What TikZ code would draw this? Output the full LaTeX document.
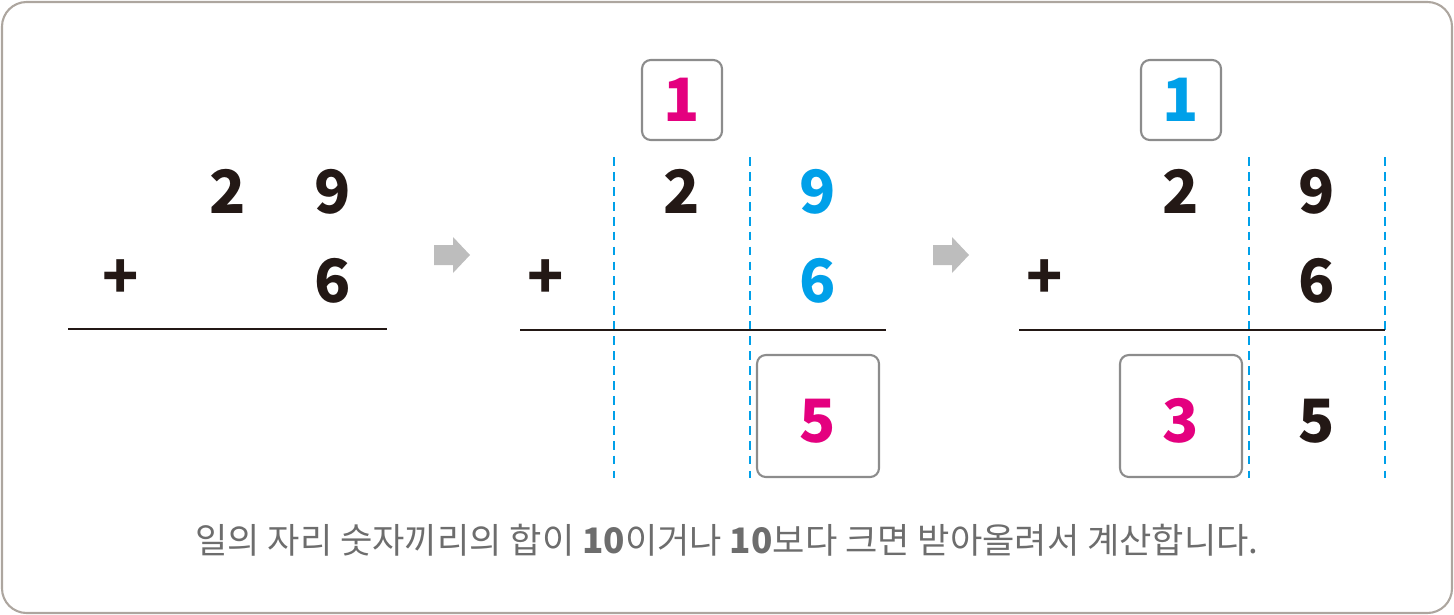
\documentclass[tikz,border=0pt]{standalone}
\usepackage{fontspec}
\setmainfont{Noto Sans CJK KR}
\definecolor{ink}{HTML}{231815}
\definecolor{pink}{HTML}{E4007F}
\definecolor{sky}{HTML}{00A0E9}
\definecolor{frame}{HTML}{ADA69F}
\definecolor{boxgray}{HTML}{8C8C8C}
\definecolor{arrowgray}{HTML}{BDBDBD}
\definecolor{capgray}{HTML}{6D6D6D}
\begin{document}
\begin{tikzpicture}[x=0.02cm,y=-0.02cm,
  digit/.style={inner sep=0pt,anchor=base,text=ink,font=\fontsize{34}{40}\selectfont\bfseries},
  digitbox/.style={draw=boxgray,line width=1.2pt,rounded corners=5pt,fill=white},
  column/.style={sky,line width=0.8pt,dash pattern=on 5pt off 3.5pt},
  sumline/.style={ink,line width=1pt},
  nextarrow/.style={fill=arrowgray,draw=none}]
\useasboundingbox (0,0) rectangle (1454,615);
\draw[frame,line width=1.2pt,rounded corners=14pt] (2,2) rectangle (1452,613);
% first step
\node[digit] (a2) at (228,214) {2};
\node[digit] (a9) at (333,214) {9};
\node[digit] (aplus) at (121,298) {+};
\node[digit] (a6) at (333,302) {6};
\coordinate (al) at (68,329);
\coordinate (ar) at (387,329);
\draw[sumline] (al) -- (ar);
% arrows between steps
\foreach \x/\n in {452/s1,951/s2}{
  \coordinate (\n) at (\x,255);
  \fill[nextarrow] ([shift={(-18,-10)}]\n) -- ([shift={(1,-10)}]\n) -- ([shift={(1,-18)}]\n)
    -- ([shift={(18,0)}]\n) -- ([shift={(1,18)}]\n) -- ([shift={(1,10)}]\n)
    -- ([shift={(-18,10)}]\n) -- cycle;}
% second step
\node[digitbox,minimum width=1.6cm,minimum height=1.6cm] (b1box) at (682,100) {};
\node[digit,text=pink] (b1) at (682,122) {1};
\node[digitbox,minimum width=2.44cm,minimum height=2.44cm] (b5box) at (818,416) {};
\node[digit,text=pink] (b5) at (818,442) {5};
\foreach \x/\n in {614/bc1,750/bc2}{
  \coordinate (\n t) at (\x,157);
  \coordinate (\n b) at (\x,478);
  \draw[column] (\n t) -- (\n b);}
\node[digit] (b2) at (682,214) {2};
\node[digit,text=sky] (b9) at (818,214) {9};
\node[digit] (bplus) at (546,298) {+};
\node[digit,text=sky] (b6) at (818,302) {6};
\coordinate (bl) at (520,330);
\coordinate (br) at (886,330);
\draw[sumline] (bl) -- (br);
% third step
\node[digitbox,minimum width=1.6cm,minimum height=1.6cm] (c1box) at (1181,100) {};
\node[digit,text=sky] (c1) at (1181,122) {1};
\node[digitbox,minimum width=2.44cm,minimum height=2.44cm] (c3box) at (1181,416) {};
\node[digit,text=pink] (c3) at (1181,442) {3};
\foreach \x/\n in {1249/cc1,1385/cc2}{
  \coordinate (\n t) at (\x,157);
  \coordinate (\n b) at (\x,478);
  \draw[column] (\n t) -- (\n b);}
\node[digit] (c2) at (1181,214) {2};
\node[digit] (c9) at (1317,214) {9};
\node[digit] (cplus) at (1045,298) {+};
\node[digit] (c6) at (1317,302) {6};
\node[digit] (c5) at (1317,442) {5};
\coordinate (cl) at (1019,330);
\coordinate (cr) at (1385,330);
\draw[sumline] (cl) -- (cr);
% caption
\node[text=capgray,font=\fontsize{20}{24}\selectfont,inner sep=0pt] (cap) at (727,540) {일의 자리 숫자끼리의 합이 \textbf{10}이거나 \textbf{10}보다 크면 받아올려서 계산합니다.};
\end{tikzpicture}
\end{document}
